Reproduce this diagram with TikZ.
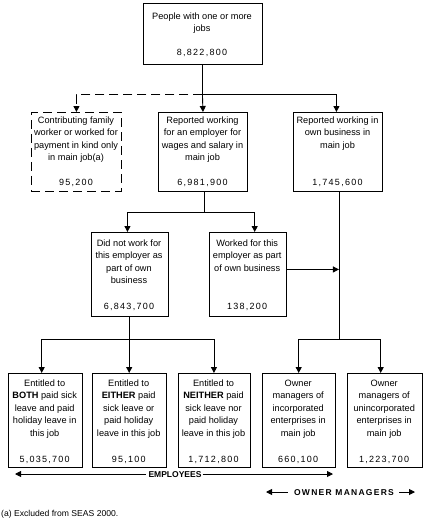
\documentclass[tikz,border=0pt]{standalone}
\usepackage{fontspec}
\setmainfont{Liberation Sans}
\usetikzlibrary{arrows.meta}
\begin{document}
\begin{tikzpicture}[x=1pt,y=-1pt,
  bx/.style={draw, line width=0.9pt, anchor=north west, inner sep=0},
  dbx/.style={bx, dash pattern=on 9pt off 5pt},
  txt/.style={font=\fontsize{9.2}{12.5}\selectfont, align=center, inner sep=0, anchor=north},
  num/.style={font=\fontsize{9}{12}\selectfont\addfontfeatures{LetterSpace=14}, inner sep=0, anchor=base},
  con/.style={line width=0.9pt},
  arr/.style={con, -{Triangle[width=6pt,length=6pt]}},
  larr/.style={con, {Triangle[width=6pt,length=6pt]}-},
  lbl/.style={font=\fontsize{8.5}{10}\selectfont\bfseries, inner sep=0, anchor=base},
]
\useasboundingbox[fill=white] (0,0) rectangle (424,523);

% top
\node[bx, minimum width=119pt, minimum height=61pt] (top) at (142.5,3) {};
\node[txt] (top-t) at (202,12.5) {People with one or more\\jobs};
\node[num] (top-n) at (202,55.2) {8,822,800};

% row 2
\node[dbx, minimum width=90pt, minimum height=78.5pt] (c) at (31,112) {};
\node[txt] (c-t) at (76,116.5) {Contributing family\\worker or worked for\\payment in kind only\\in main job(a)};
\node[num] (c-n) at (76,185.2) {95,200};

\node[bx, minimum width=89pt, minimum height=78.5pt] (m) at (158,112) {};
\node[txt] (m-t) at (202.5,116.5) {Reported working\\for an employer for\\wages and salary in\\main job};
\node[num] (m-n) at (202.5,185.2) {6,981,900};

\node[bx, minimum width=89pt, minimum height=78.5pt] (r) at (293,112) {};
\node[txt] (r-t) at (337.5,116.5) {Reported working in\\own business in\\main job};
\node[num] (r-n) at (337.5,185.2) {1,745,600};

% row 3
\node[bx, minimum width=77pt, minimum height=84pt] (d) at (90.5,232) {};
\node[txt] (d-t) at (129,239.5) {Did not work for\\this employer as\\part of own\\business};
\node[num] (d-n) at (129,309.2) {6,843,700};

\node[bx, minimum width=76.5pt, minimum height=84pt] (w) at (209,232) {};
\node[txt] (w-t) at (247.2,239.5) {Worked for this\\employer as part\\of own business};
\node[num] (w-n) at (247.2,309.2) {138,200};

% row 4
\node[bx, minimum width=73.5pt, minimum height=94pt] (b1) at (8,373) {};
\node[txt] (b1-t) at (44.7,379.5) {Entitled to\\\textbf{BOTH} paid sick\\leave and paid\\holiday leave in\\this job};
\node[num] (b1-n) at (44.7,462) {5,035,700};

\node[bx, minimum width=73.5pt, minimum height=94pt] (b2) at (92,373) {};
\node[txt] (b2-t) at (128.7,379.5) {Entitled to\\\textbf{EITHER} paid\\sick leave or\\paid holiday\\leave in this job};
\node[num] (b2-n) at (128.7,462) {95,100};

\node[bx, minimum width=72pt, minimum height=94pt] (b3) at (177.5,373) {};
\node[txt] (b3-t) at (213.5,379.5) {Entitled to\\\textbf{NEITHER} paid\\sick leave nor\\paid holiday\\leave in this job};
\node[num] (b3-n) at (213.5,462) {1,712,800};

\node[bx, minimum width=73.5pt, minimum height=94pt] (b4) at (261.5,373) {};
\node[txt] (b4-t) at (298.2,379.5) {Owner\\managers of\\incorporated\\enterprises in\\main job};
\node[num] (b4-n) at (298.2,462) {660,100};

\node[bx, minimum width=74.5pt, minimum height=94pt] (b5) at (347,373) {};
\node[txt] (b5-t) at (384.2,379.5) {Owner\\managers of\\unincorporated\\enterprises in\\main job};
\node[num] (b5-n) at (384.2,462) {1,223,700};

% connectors
\draw[con] (top.south) -- ++(0,30) coordinate (j1);
\draw[arr] (j1) -- (m.north);
\draw[arr, dash pattern=on 9pt off 5pt] (j1) -| (c.north);
\draw[arr] (j1) -| ([xshift=-1.5pt]r.north);

\draw[con] ([xshift=1.5pt]m.south) -- ++(0,21.5) coordinate (j2);
\draw[arr] (j2) -| ([xshift=-2pt]d.north);
\draw[arr] (j2) -| ([xshift=7pt]w.north);

\draw[con] ([xshift=1pt]r.south) -- ++(0,148.5) coordinate (j4);
\draw[arr] ([yshift=5pt]w.east) -- ([yshift=5pt]w.east -| j4);
\draw[arr] (j4) -| (b4.north);
\draw[arr] (j4) -| ([xshift=-4pt]b5.north);

\draw[con] (d.south) -- ++(0,23) coordinate (j3);
\draw[arr] (j3) -| ([xshift=-3.5pt]b1.north);
\draw[arr] (j3) -| (b2.north);
\draw[arr] (j3) -| (b3.north);

% group labels
\node[lbl] (emp) at (175,477.2) {EMPLOYEES};
\coordinate (el) at (15,474);
\coordinate (er) at (333,474);
\draw[larr] (el) -- ([xshift=-2pt]emp.west |- el);
\draw[arr] ([xshift=1pt]emp.east |- er) -- (er);

\node[lbl, font=\fontsize{8.5}{10}\selectfont\bfseries\addfontfeatures{LetterSpace=15}] (own) at (344,495.2) {OWNER MANAGERS};
\coordinate (ol) at (266,492);
\coordinate (or) at (415,492);
\draw[larr] (ol) -- ([xshift=-6pt]own.west |- ol);
\draw[arr] ([xshift=5pt]own.east |- or) -- (or);

\node[anchor=base west, inner sep=0, font=\fontsize{8.6}{10}\selectfont] (fn) at (1,516.5) {(a) Excluded from SEAS 2000.};
\end{tikzpicture}
\end{document}
